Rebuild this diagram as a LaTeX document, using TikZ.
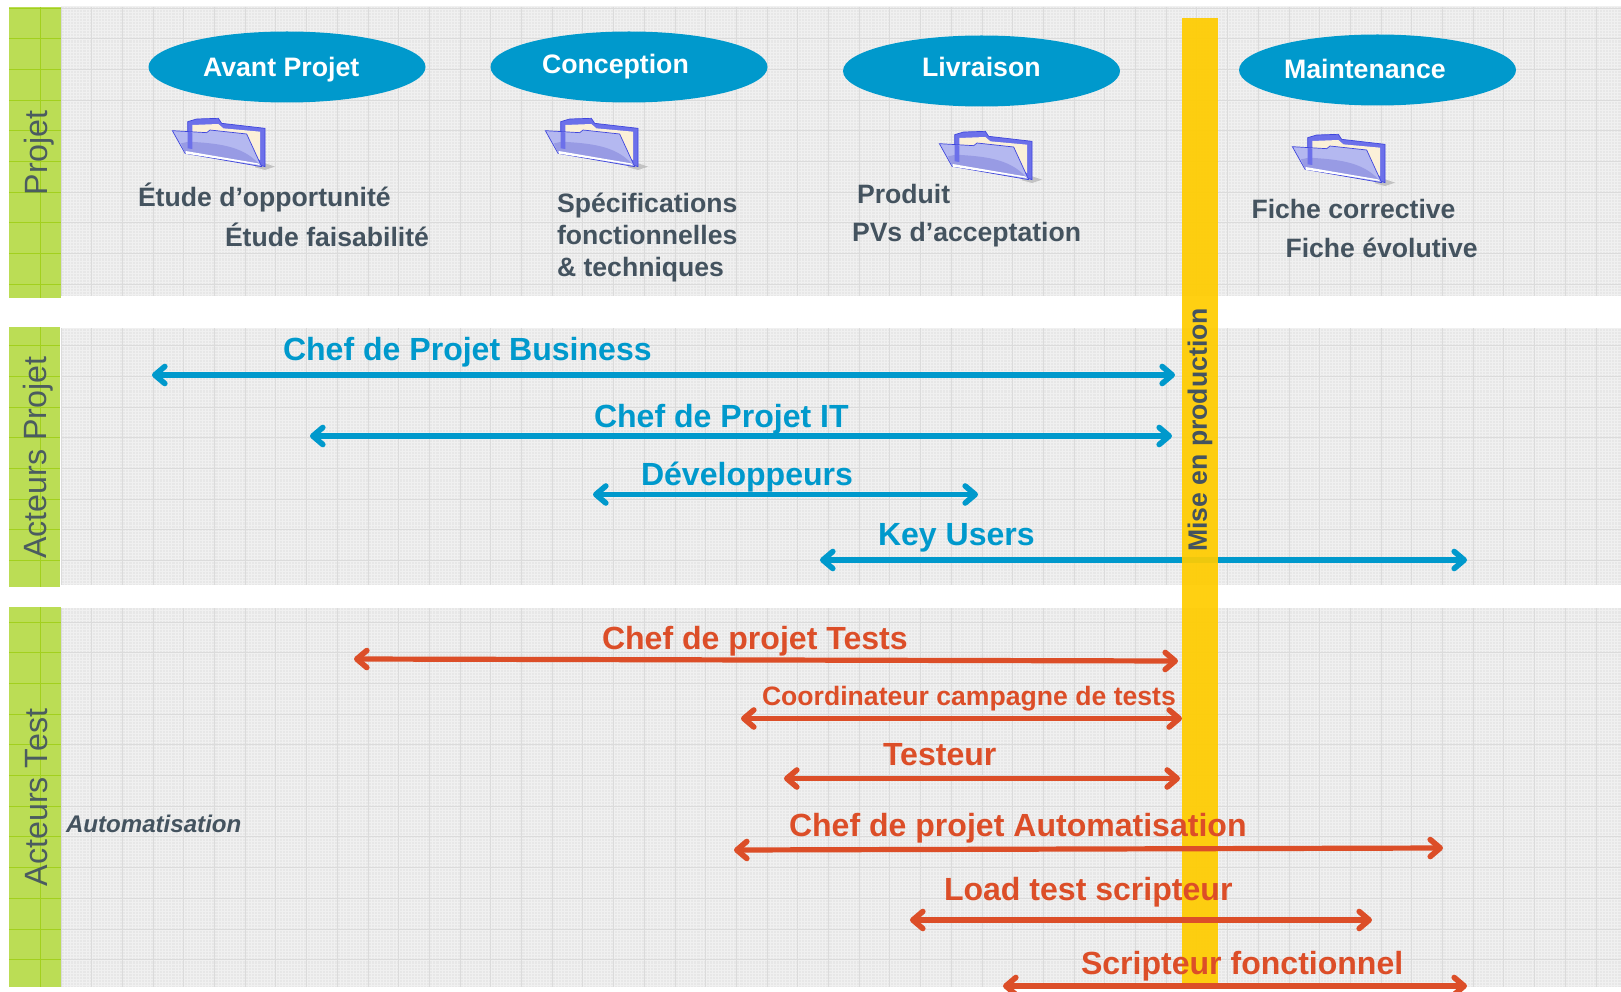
\documentclass[tikz,border=0pt]{standalone}
\usepackage{fontspec}
\setmainfont{Liberation Sans}
\usetikzlibrary{arrows.meta,shapes.geometric}
\definecolor{panelgrey}{HTML}{E7E7E7}
\definecolor{panelfine}{HTML}{F0F0F0}
\definecolor{panelline}{HTML}{DBDBDB}
\definecolor{greenband}{HTML}{BBDD55}
\definecolor{greenline}{HTML}{A2D01E}
\definecolor{phaseblue}{HTML}{0099CC}
\definecolor{actorred}{HTML}{DC4E28}
\definecolor{barorange}{HTML}{FFCC00}
\definecolor{slatetext}{HTML}{44535F}
\definecolor{sidetext}{HTML}{4B5C60}
\definecolor{fdback}{HTML}{6C70EA}
\definecolor{fdedge}{HTML}{3F46DC}
\definecolor{fdpaper}{HTML}{FBF0D8}
\definecolor{fdfront}{HTML}{B4B8F0}
\definecolor{fdlow}{HTML}{989BE4}
\tikzset{
  every node/.style={inner sep=0pt,outer sep=0pt},
  phase/.style={ellipse,fill=phaseblue,minimum width=277pt,minimum height=71pt},
  phasetext/.style={anchor=base west,text=white,font=\bfseries\fontsize{26.7}{30}\selectfont},
  doc/.style={anchor=base west,text=slatetext,font=\bfseries\fontsize{26.6}{30}\selectfont},
  sidelabel/.style={rotate=90,text=sidetext,font=\fontsize{32.2}{36}\selectfont},
  actorb/.style={anchor=base west,text=phaseblue,font=\bfseries\fontsize{32.05}{36}\selectfont},
  actorr/.style={anchor=base west,text=actorred,font=\bfseries\fontsize{32.05}{36}\selectfont},
  barrow/.style={draw=phaseblue,line width=5.2pt,{Straight Barb[length=10pt,width=17pt,round,line width=5.6pt]}-{Straight Barb[length=10pt,width=17pt,round,line width=5.6pt]}},
  rarrow/.style={draw=actorred,line width=5.2pt,{Straight Barb[length=10pt,width=17pt,round,line width=5.6pt]}-{Straight Barb[length=10pt,width=17pt,round,line width=5.6pt]}},
  folder/.pic={
    \begin{scope}[scale=0.33333]
      \fill[black!30,opacity=.7] (270,150) -- (330,170) -- (300,180) -- (270,172) -- cycle;
      \filldraw[fill=fdback,draw=fdedge,line width=.7pt]
        (68,60) -- (68,35) -- (95,27) -- (160,25) -- (170,40) -- (300,55) -- (300,170) -- (285,165) -- (68,100) -- cycle;
      \fill[fdpaper] (82,45) -- (160,42) -- (175,55) -- (285,65) -- (285,150) -- (82,70) -- cycle;
      \filldraw[fill=fdfront,draw=fdedge,line width=.7pt]
        (22,62) -- (125,68) -- (135,60) -- (245,72) -- (290,170) -- (60,130) -- cycle;
      \fill[fdlow] (72,95) .. controls (150,100) and (230,105) .. (280,160) -- (60,128) -- (48,100) -- cycle;
      \fill[fdback] (68,66) -- (82,67) -- (82,117) -- (68,115) -- cycle;
      \fill[white] (62,123) -- (278,160) -- (284,165) -- (62,131) -- cycle;
    \end{scope}
  }
}
\newcommand{\greypanel}[2]{%
  \fill[panelgrey] (61,#1) rectangle (1621,#2);
  \begin{scope}
    \clip (61,#1) rectangle (1621,#2);
    \foreach \gx in {0,3.07,...,1621}{\draw[panelfine,line width=.9pt] (\gx,#1) -- (\gx,#2);}
    \foreach \gy in {0,3.07,...,992}{\draw[panelfine,line width=.9pt] (61,\gy) -- (1621,\gy);}
    \foreach \gx in {61,91.7,...,1621}{\draw[panelline,line width=.9pt] (\gx,#1) -- (\gx,#2);}
    \foreach \gy in {8,38.7,...,992}{\draw[panelline,line width=.9pt] (61,\gy) -- (1621,\gy);}
  \end{scope}}
\newcommand{\greenpanel}[3]{%
  \fill[greenband] (9,#1) rectangle (#3,#2);
  \begin{scope}
    \clip (9,#1) rectangle (#3,#2);
    \draw[greenline,line width=.9pt] (40,#1) -- (40,#2);
    \foreach \gy in {8,38.7,...,992}{\draw[greenline,line width=.9pt] (9,\gy) -- (#3,\gy);}
  \end{scope}}
\begin{document}
\begin{tikzpicture}[x=1pt,y=-1pt]
\useasboundingbox (0,0) rectangle (1621,992);
\clip (0,0) rectangle (1621,992);
\greypanel{7}{296}
\greypanel{328}{585}
\greypanel{608}{987}
\greenpanel{7}{298}{61}
\greenpanel{327}{587}{60}
\greenpanel{607}{987}{61}

\node[sidelabel] (sp) at (39,153) {Projet};
\node[sidelabel] (sa) at (38,457.5) {Acteurs Projet};
\node[sidelabel] (st) at (37,797.5) {Acteurs Test};

\node[phase] (e1) at (287,67) {};
\node[phase] (e2) at (629,67) {};
\node[phase] (e3) at (981.5,71) {};
\node[phase] (e4) at (1377.5,70) {};
\node[phasetext] (p1) at (203,77) {Avant Projet};
\node[phasetext] (p2) at (542,74) {Conception};
\node[phasetext] (p3) at (922,76.5) {Livraison};
\node[phasetext] (p4) at (1284,79) {Maintenance};

\pic (f1) at (165,110) {folder};
\pic (f2) at (538,110) {folder};
\pic (f3) at (932,123) {folder};
\pic (f4) at (1285,126) {folder};

\node[doc] (d1) at (138,207) {Étude d’opportunité};
\node[doc] (d2) at (225,247) {Étude faisabilité};
\node[doc] (d3) at (557,213) {Spécifications};
\node[doc] (d4) at (557,245) {fonctionnelles};
\node[doc] (d5) at (557,276.5) {\& techniques};
\node[doc] (d6) at (857,204) {Produit};
\node[doc] (d7) at (852,242) {PVs d’acceptation};
\node[doc] (d8) at (1251.5,219) {Fiche corrective};
\node[doc] (d9) at (1285.5,257.5) {Fiche évolutive};

\coordinate (a1l) at (152,375);  \coordinate (a1r) at (1175,375);
\coordinate (a2l) at (310,436);  \coordinate (a2r) at (1172,436);
\coordinate (a3l) at (593,494.5);  \coordinate (a3r) at (978,494.5);
\coordinate (a4l) at (820,560);  \coordinate (a4r) at (1467,560);
\coordinate (r1l) at (354,659);  \coordinate (r1r) at (1178,661);
\coordinate (r2l) at (741,718.5);  \coordinate (r2r) at (1182,718.5);
\coordinate (r3l) at (784,778.5);  \coordinate (r3r) at (1180,778.5);
\coordinate (r4l) at (734,850);  \coordinate (r4r) at (1443,848);
\coordinate (r5l) at (910,920);  \coordinate (r5r) at (1372,920);
\coordinate (r6l) at (1003,986); \coordinate (r6r) at (1467,986);

\draw[barrow] (a4l) -- (a4r);

\fill[barorange,opacity=.93] (1182,18) rectangle (1218,983);
\node[rotate=90,text=slatetext,font=\bfseries\fontsize{26.6}{30}\selectfont] (mp) at (1200,430) {Mise en production};

\draw[barrow] (a1l) -- (a1r);
\draw[barrow] (a2l) -- (a2r);
\draw[barrow] (a3l) -- (a3r);
\node[actorb] (t1) at (283,360) {Chef de Projet Business};
\node[actorb] (t2) at (594,427) {Chef de Projet IT};
\node[actorb] (t3) at (641,485) {Développeurs};
\node[actorb] (t4) at (878,545) {Key Users};

\draw[rarrow] (r1l) -- (r1r);
\draw[rarrow] (r2l) -- (r2r);
\draw[rarrow] (r3l) -- (r3r);
\draw[rarrow] (r4l) -- (r4r);
\draw[rarrow] (r5l) -- (r5r);
\draw[rarrow] (r6l) -- (r6r);
\node[actorr] (u1) at (602,649) {Chef de projet Tests};
\node[actorr,font=\bfseries\fontsize{26.6}{30}\selectfont] (u2) at (762,705) {Coordinateur campagne de tests};
\node[actorr] (u3) at (883,765) {Testeur};
\node[actorr] (u4) at (789,836) {Chef de projet Automatisation};
\node[actorr] (u5) at (944,900) {Load test scripteur};
\node[actorr] (u6) at (1081,974) {Scripteur fonctionnel};

\node[anchor=base west,text=slatetext,font=\bfseries\itshape\fontsize{24.1}{28}\selectfont] (au) at (66,832) {Automatisation};
\end{tikzpicture}
\end{document}
